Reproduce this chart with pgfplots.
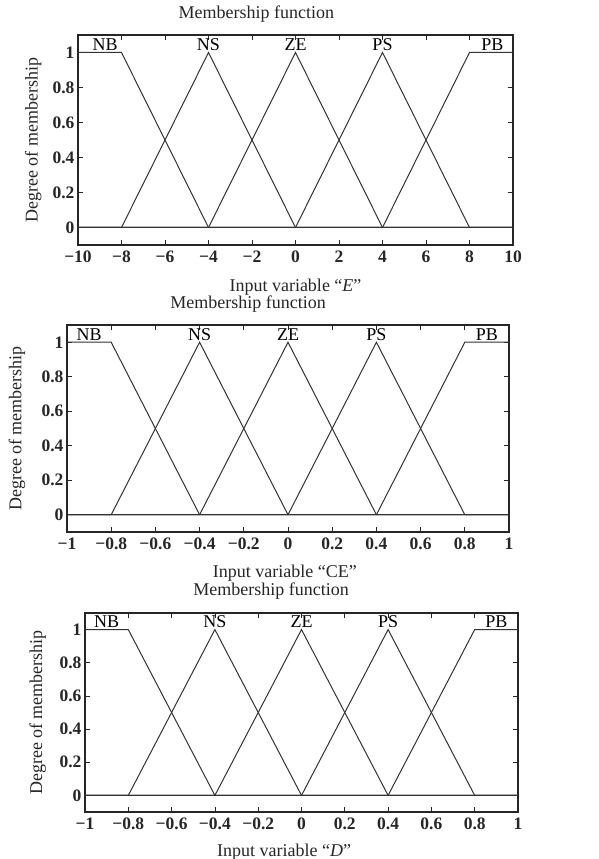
\documentclass[border=0pt]{standalone}
\usepackage{fontspec}
\setmainfont{Liberation Serif}
\usepackage{pgfplots}
\pgfplotsset{compat=1.18}
\tikzset{lab/.style={font=\fontsize{18}{21}\selectfont, anchor=base, inner sep=0pt}}
\begin{document}
\begin{tikzpicture}
\path[use as bounding box] (0pt,0pt) rectangle (598pt,859pt);
\pgfplotsset{
  mf/.style={
    scale only axis, anchor=south west,
    ymin=-0.1, ymax=1.1,
    ytick={0,0.2,0.4,0.6,0.8,1},
    yticklabels={0,0.2,0.4,0.6,0.8,1},
    tick align=inside, major tick length=5pt,
    tick style={black!85, line width=0.8pt},
    axis line style={black!85, line width=1.4pt},
    every tick label/.append style={font=\fontsize{17.5}{20}\selectfont\bfseries, text=black!85},
    /pgf/number format/assume math mode=true,
    label style={font=\fontsize{18}{21}\selectfont, text=black!85},
    title style={font=\fontsize{18}{21}\selectfont, anchor=center, text=black!85},
    title={Membership function},
    ylabel={Degree of membership},
    cycle list={{black!80, line width=1.0pt, mark=none}},
    every axis plot post/.append style={black!80, line width=1.0pt, mark=none},
    clip=false,
  },
}
% ---------- Panel 1 (E) ----------
\begin{axis}[mf, at={(78pt,614pt)}, width=435pt, height=210pt,
  xmin=-10, xmax=10, xtick={-10,-8,...,10},
  xticklabels={−10,−8,−6,−4,−2,0,2,4,6,8,10},
  xlabel={Input variable “\textit{E}”},
  title style={at={(axis description cs:0.41,1.07)}},
  xlabel style={at={(axis description cs:0.5,-0.20)}, anchor=center},
  ylabel style={at={(axis description cs:-0.103,0.5)}, anchor=center},
  xticklabel style={yshift=-2pt},
]
\addplot coordinates {(-10,1) (-8,1) (-4,0) (10,0)};
\addplot coordinates {(-10,0) (-8,0) (-4,1) (0,0) (10,0)};
\addplot coordinates {(-10,0) (-4,0) (0,1) (4,0) (10,0)};
\addplot coordinates {(-10,0) (0,0) (4,1) (8,0) (10,0)};
\addplot coordinates {(-10,0) (4,0) (8,1) (10,1)};
\node[lab] at (axis cs:-8.75,1.01) {NB};
\node[lab] at (axis cs:-4,1.01) {NS};
\node[lab] at (axis cs:0,1.01) {ZE};
\node[lab] at (axis cs:4,1.01) {PS};
\node[lab] at (axis cs:9.05,1.01) {PB};
\end{axis}
% ---------- Panel 2 (CE) ----------
\begin{axis}[mf, at={(67pt,327pt)}, width=442pt, height=207pt,
  xmin=-1, xmax=1, xtick={-1,-0.8,-0.6,-0.4,-0.2,0,0.2,0.4,0.6,0.8,1},
  xticklabels={−1,−0.8,−0.6,−0.4,−0.2,0,0.2,0.4,0.6,0.8,1},
  xlabel={Input variable “CE”},
  title style={at={(axis description cs:0.41,1.07)}},
  xlabel style={at={(axis description cs:0.493,-0.20)}, anchor=center},
  ylabel style={at={(axis description cs:-0.113,0.5)}, anchor=center},
  xticklabel style={yshift=-2pt},
]
\addplot coordinates {(-1,1) (-0.8,1) (-0.4,0) (1,0)};
\addplot coordinates {(-1,0) (-0.8,0) (-0.4,1) (0,0) (1,0)};
\addplot coordinates {(-1,0) (-0.4,0) (0,1) (0.4,0) (1,0)};
\addplot coordinates {(-1,0) (0,0) (0.4,1) (0.8,0) (1,0)};
\addplot coordinates {(-1,0) (0.4,0) (0.8,1) (1,1)};
\node[lab] at (axis cs:-0.9,1.01) {NB};
\node[lab] at (axis cs:-0.4,1.01) {NS};
\node[lab] at (axis cs:0,1.01) {ZE};
\node[lab] at (axis cs:0.4,1.01) {PS};
\node[lab] at (axis cs:0.9,1.01) {PB};
\end{axis}
% ---------- Panel 3 (D) ----------
\begin{axis}[mf, at={(85pt,47pt)}, width=433pt, height=199pt,
  xmin=-1, xmax=1, xtick={-1,-0.8,-0.6,-0.4,-0.2,0,0.2,0.4,0.6,0.8,1},
  xticklabels={−1,−0.8,−0.6,−0.4,−0.2,0,0.2,0.4,0.6,0.8,1},
  xlabel={Input variable “\textit{D}”},
  title style={at={(axis description cs:0.43,1.08)}},
  xlabel style={at={(axis description cs:0.46,-0.20)}, anchor=center},
  ylabel style={at={(axis description cs:-0.109,0.5)}, anchor=center},
  xticklabel style={yshift=-2pt},
]
\addplot coordinates {(-1,1) (-0.8,1) (-0.4,0) (1,0)};
\addplot coordinates {(-1,0) (-0.8,0) (-0.4,1) (0,0) (1,0)};
\addplot coordinates {(-1,0) (-0.4,0) (0,1) (0.4,0) (1,0)};
\addplot coordinates {(-1,0) (0,0) (0.4,1) (0.8,0) (1,0)};
\addplot coordinates {(-1,0) (0.4,0) (0.8,1) (1,1)};
\node[lab] at (axis cs:-0.9,1.01) {NB};
\node[lab] at (axis cs:-0.4,1.01) {NS};
\node[lab] at (axis cs:0,1.01) {ZE};
\node[lab] at (axis cs:0.4,1.01) {PS};
\node[lab] at (axis cs:0.9,1.01) {PB};
\end{axis}
\end{tikzpicture}
\end{document}
